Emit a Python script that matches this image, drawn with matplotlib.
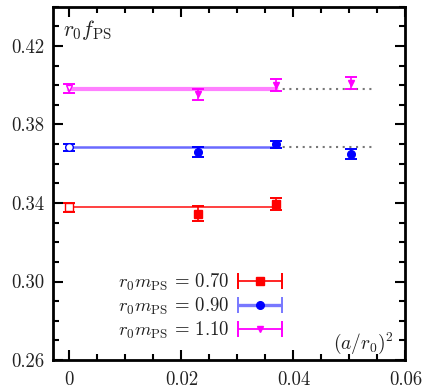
import matplotlib
matplotlib.use('Agg')
import matplotlib.pyplot as plt
from matplotlib.ticker import MultipleLocator, FuncFormatter, FixedLocator
from matplotlib.legend_handler import HandlerErrorbar
from matplotlib.container import ErrorbarContainer

plt.rcParams['font.family'] = 'serif'
plt.rcParams['font.serif'] = ['cmr10']
plt.rcParams['mathtext.fontset'] = 'cm'
plt.rcParams['axes.formatter.use_mathtext'] = True
plt.rcParams['axes.unicode_minus'] = False

# (a/r0)^2 of the lattices, continuum point at 0
a2_070 = [0.0, 0.0230, 0.0368]
f_070 = [0.3378, 0.3345, 0.3396]
e_070 = [0.0024, 0.0038, 0.0030]
fit_070 = 0.3378

a2_090 = [0.0, 0.0230, 0.0368, 0.0503]
f_090 = [0.3684, 0.3658, 0.3699, 0.3650]
e_090 = [0.0018, 0.0025, 0.0018, 0.0026]
fit_090 = 0.3684

a2_110 = [0.0, 0.0230, 0.0368, 0.0503]
f_110 = [0.3985, 0.3954, 0.4000, 0.4010]
e_110 = [0.0023, 0.0028, 0.0030, 0.0030]
fit_110 = 0.3981

fit_range = [0.0, 0.0368]
ext_range = [0.0368, 0.0548]

labels = [r'$r_0 m_{\rm PS}\,=\,0.70$', r'$r_0 m_{\rm PS}\,=\,0.90$', r'$r_0 m_{\rm PS}\,=\,1.10$']

series = [
    # x, y, err, fit, colour, marker, size, fit colour, fit width, legend bar colour, legend bar width, dotted extension
    (a2_070, f_070, e_070, fit_070, '#ff0000', 's', 5.5, '#ff2020', 1.2, '#ff0000', 1.2, False),
    (a2_090, f_090, e_090, fit_090, '#0000ff', 'o', 5.5, '#6a6aff', 1.8, '#7878ff', 2.4, True),
    (a2_110, f_110, e_110, fit_110, '#ff00ff', 'v', 4.5, '#ff80ff', 3.0, '#ff00ff', 1.3, True),
]

fig = plt.figure(figsize=(4.28, 3.89), dpi=100)
ax = fig.add_axes([0.1227, 0.0745, 0.8247, 0.9083])

proxies = []
for x, y, e, fit, col, mk, ms, fcol, flw, lcol, llw, ext in series:
    ax.plot(fit_range, [fit, fit], color=fcol, lw=flw, zorder=2)
    if ext:
        ax.plot(ext_range, [fit, fit], color='#777777', lw=1.5, ls=(0, (1, 2.2)), zorder=1)
    # continuum value: open symbol
    ax.errorbar(x[:1], y[:1], yerr=e[:1], fmt=mk, color=col, ms=ms, mfc='white', mec=col,
                elinewidth=1.2, capsize=4, capthick=1.4, zorder=3)
    ax.errorbar(x[1:], y[1:], yerr=e[1:], fmt=mk, color=col, ms=ms, mec=col,
                elinewidth=1.2, capsize=4, capthick=1.4, zorder=3)
    # key entry with horizontal bar, nothing drawn in the axes
    p = ax.errorbar([float('nan')], [float('nan')], xerr=[float('nan')], fmt=mk, color=col,
                    ms=ms, mec=col, ecolor=lcol, elinewidth=llw, capsize=6, capthick=1.4)
    proxies.append(p)

ax.legend(proxies, labels, loc='center right', bbox_to_anchor=(0.649, 0.152),
          frameon=False, markerfirst=False, fontsize=13.5, handlelength=2.35,
          handletextpad=0.45, labelspacing=0.15, borderpad=0, borderaxespad=0,
          labelcolor='#222222',
          handler_map={ErrorbarContainer: HandlerErrorbar(xerr_size=1.17)})

ax.text(0.03, 0.935, r'$r_0 f_{\rm PS}$', transform=ax.transAxes, fontsize=15.5,
        ha='left', va='center', color='#222222')
ax.text(0.967, 0.048, r'$(a/r_0)^2$', transform=ax.transAxes, fontsize=14,
        ha='right', va='center', color='#222222')

ax.set_xlim(-0.003, 0.06)
ax.set_ylim(0.26, 0.44)
ax.xaxis.set_major_locator(MultipleLocator(0.02))
ax.xaxis.set_minor_locator(MultipleLocator(0.005))
ax.yaxis.set_major_locator(FixedLocator([0.26, 0.30, 0.34, 0.38, 0.42]))
ax.yaxis.set_minor_locator(MultipleLocator(0.01))
ax.xaxis.set_major_formatter(FuncFormatter(lambda v, p: '0' if abs(v) < 1e-9 else f'{v:.2f}'))
ax.yaxis.set_major_formatter(FuncFormatter(lambda v, p: f'{v:.2f}'))

ax.tick_params(which='both', direction='in', top=True, right=True, width=1.5,
               labelsize=13.5, labelcolor='#222222')
ax.tick_params(which='major', length=7)
ax.tick_params(which='minor', length=4)
ax.tick_params(axis='x', pad=8)
ax.tick_params(axis='y', pad=6)
for s in ax.spines.values():
    s.set_linewidth(2)

fig.savefig('out.png', dpi=100)
